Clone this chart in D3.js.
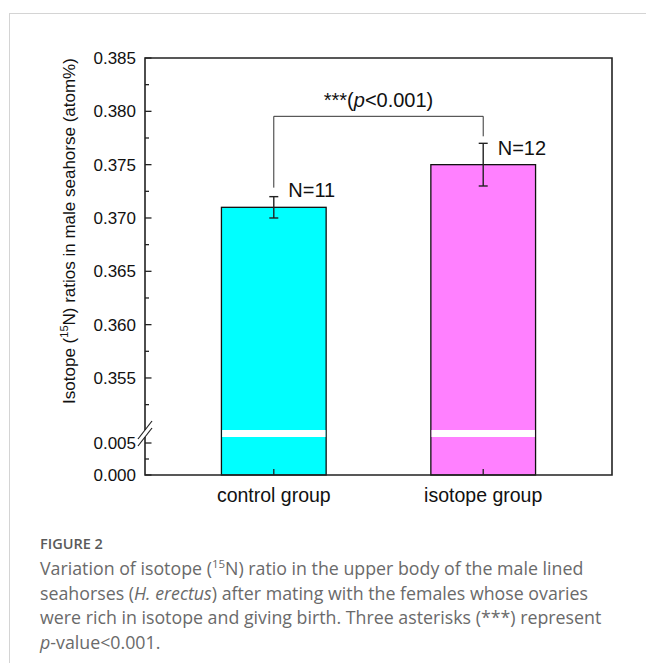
<!DOCTYPE html>
<html>
<head>
<meta charset="utf-8">
<script src="https://cdn.jsdelivr.net/npm/d3@7"></script>
<style>
  html, body { margin: 0; padding: 0; background: #fff; }
  svg { display: block; }
</style>
</head>
<body>
<svg id="fig" width="646" height="663"></svg>
<script>
// ---- data ----
const categories = ["control group", "isotope group"];
const means = [0.371, 0.375];
const errors = [0.001, 0.002];
const sampleSizes = [11, 12];
const barColors = ["#00FFFF", "#FF80FF"];
const upperTicks = [0.355, 0.360, 0.365, 0.370, 0.375, 0.380, 0.385];
const upperMinorTicks = [0.3525, 0.3575, 0.3625, 0.3675, 0.3725, 0.3775, 0.3825];
const lowerTicks = [0.000, 0.005];
const lowerMinorTicks = [0.0025];
const significanceLabel = ["***(", "p", "<0.001)"];

const svg = d3.select("#fig");
const FONT = "Liberation Sans, Arial, Helvetica, sans-serif";
const INK = "#222";

// page frame
svg.append("line").attr("x1", 9).attr("x2", 646).attr("y1", 13.5).attr("y2", 13.5)
  .attr("stroke", "#d4d4d4").attr("stroke-width", 1);
svg.append("line").attr("x1", 9.5).attr("x2", 9.5).attr("y1", 13).attr("y2", 663)
  .attr("stroke", "#d4d4d4").attr("stroke-width", 1);

// plot area
const plot = { left: 145, right: 612, top: 58, bottom: 475 };
const breakTop = 430, breakBottom = 437;

const x = d3.scaleBand().domain(categories)
  .range([plot.left, plot.right]).paddingInner(0.5).paddingOuter(0.365);

// broken y axis: two linear segments
const yUpper = d3.scaleLinear().domain([0.35, 0.385]).range([431.3, plot.top]);
const yLower = d3.scaleLinear().domain([0, 0.005]).range([plot.bottom, 443]);

const g = svg.append("g");

// bars
categories.forEach((c, i) => {
  const x0 = x(c), w = x.bandwidth();
  const yTop = yUpper(means[i]);
  const yBase = yLower(0);
  g.append("rect").attr("x", x0).attr("y", yTop).attr("width", w).attr("height", yBase - yTop)
    .attr("fill", barColors[i]).attr("stroke", "#111").attr("stroke-width", 1.3);
  // axis break gap through the bar
  g.append("rect").attr("x", x0 + 0.7).attr("y", breakTop).attr("width", w - 1.4)
    .attr("height", breakBottom - breakTop).attr("fill", "#fff");
});

// x axis ticks (inward)
categories.forEach(c => {
  const cx = x(c) + x.bandwidth() / 2;
  g.append("line").attr("x1", cx).attr("x2", cx).attr("y1", plot.bottom).attr("y2", plot.bottom - 6)
    .attr("stroke", INK).attr("stroke-width", 1.3);
});

// error bars
categories.forEach((c, i) => {
  const cx = x(c) + x.bandwidth() / 2;
  const yHi = yUpper(means[i] + errors[i]);
  const yLo = yUpper(means[i] - errors[i]);
  const eg = g.append("g").attr("stroke", INK).attr("stroke-width", 1.4);
  eg.append("line").attr("x1", cx).attr("x2", cx).attr("y1", yHi).attr("y2", yLo);
  eg.append("line").attr("x1", cx - 4.5).attr("x2", cx + 4.5).attr("y1", yHi).attr("y2", yHi);
  eg.append("line").attr("x1", cx - 4.5).attr("x2", cx + 4.5).attr("y1", yLo).attr("y2", yLo);
  // sample size label
  g.append("text").attr("x", cx + 14.5).attr("y", yUpper(means[i]) - 10)
    .attr("font-family", FONT).attr("font-size", 20).attr("fill", "#111")
    .text("N=" + sampleSizes[i]);
});

// frame: top, right, bottom, and broken left axis
const frame = g.append("g").attr("stroke", INK).attr("stroke-width", 1.6).attr("fill", "none");
frame.append("path").attr("d",
  `M${plot.left},${breakTop} V${plot.top} H${plot.right} V${plot.bottom} H${plot.left} V${breakBottom}`);

// break marks on the y axis
[breakTop, breakBottom].forEach(yb => {
  frame.append("line").attr("x1", plot.left - 7).attr("y1", yb + 9)
    .attr("x2", plot.left + 7).attr("y2", yb - 9).attr("stroke-width", 1.2);
});

// y ticks (inward) and labels
const tickG = g.append("g").attr("stroke", INK).attr("stroke-width", 1.3);
upperTicks.forEach(v => tickG.append("line").attr("x1", plot.left).attr("x2", plot.left + 6.5)
  .attr("y1", yUpper(v)).attr("y2", yUpper(v)));
upperMinorTicks.forEach(v => tickG.append("line").attr("x1", plot.left).attr("x2", plot.left + 4)
  .attr("y1", yUpper(v)).attr("y2", yUpper(v)));
lowerTicks.forEach(v => tickG.append("line").attr("x1", plot.left).attr("x2", plot.left + 6.5)
  .attr("y1", yLower(v)).attr("y2", yLower(v)));
lowerMinorTicks.forEach(v => tickG.append("line").attr("x1", plot.left).attr("x2", plot.left + 4)
  .attr("y1", yLower(v)).attr("y2", yLower(v)));

const fmt = d3.format(".3f");
const labG = g.append("g").attr("font-family", FONT).attr("font-size", 17).attr("fill", "#111")
  .attr("text-anchor", "end");
upperTicks.forEach(v => labG.append("text").attr("x", plot.left - 9).attr("y", yUpper(v))
  .attr("dy", "0.35em").text(fmt(v)));
lowerTicks.forEach(v => labG.append("text").attr("x", plot.left - 9).attr("y", yLower(v))
  .attr("dy", "0.35em").text(fmt(v)));

// category labels
categories.forEach(c => {
  g.append("text").attr("x", x(c) + x.bandwidth() / 2).attr("y", plot.bottom + 27)
    .attr("text-anchor", "middle").attr("font-family", FONT).attr("font-size", 19.5)
    .attr("fill", "#111").text(c);
});

// y axis title
const yt = g.append("text").attr("transform", `translate(75,231) rotate(-90)`)
  .attr("text-anchor", "middle").attr("font-family", FONT).attr("font-size", 17).attr("fill", "#111");
yt.append("tspan").text("Isotope (");
yt.append("tspan").attr("font-size", 11).attr("dy", -7).text("15");
yt.append("tspan").attr("dy", 7).text("N) ratios in male seahorse (atom%)");

// significance bracket
const cx0 = x(categories[0]) + x.bandwidth() / 2;
const cx1 = x(categories[1]) + x.bandwidth() / 2;
const tops = means.map((m, i) => yUpper(m + errors[i]));
const bracketY = Math.min(...tops) - 27;
g.append("path")
  .attr("d", `M${cx0},${tops[0] - 9} V${bracketY} H${cx1} V${tops[1] - 7}`)
  .attr("fill", "none").attr("stroke", "#333").attr("stroke-width", 1);
const st = g.append("text").attr("x", (cx0 + cx1) / 2).attr("y", bracketY - 9)
  .attr("text-anchor", "middle").attr("font-family", FONT).attr("font-size", 20).attr("fill", "#111");
st.append("tspan").text(significanceLabel[0]);
st.append("tspan").attr("font-style", "italic").text(significanceLabel[1]);
st.append("tspan").text(significanceLabel[2]);

// caption
const CAP = "Open Sans, Lato, sans-serif";
svg.append("text").attr("x", 40).attr("y", 549).attr("font-family", CAP).attr("font-size", 14.5)
  .attr("font-weight", 600).attr("fill", "#5a5a5a").text("FIGURE 2");

const capLines = [
  [["Variation of isotope (", ""], ["15", "sup"], ["N) ratio in the upper body of the male lined", ""]],
  [["seahorses (", ""], ["H. erectus", "it"], [") after mating with the females whose ovaries", ""]],
  [["were rich in isotope and giving birth. Three asterisks (***) represent", ""]],
  [["p", "it"], ["-value<0.001.", ""]]
];
const capBase = [575, 599.5, 624, 648.5];
capLines.forEach((parts, li) => {
  const t = svg.append("text").attr("x", 40).attr("y", capBase[li]).attr("font-family", CAP)
    .attr("font-size", 17.8).attr("fill", "#6a6a6a");
  parts.forEach(([s, kind], k) => {
    const ts = t.append("tspan").text(s);
    if (kind === "it") ts.attr("font-style", "italic");
    if (kind === "sup") ts.attr("font-size", 11.5).attr("dy", -7);
    if (k > 0 && parts[k - 1][1] === "sup") ts.attr("dy", 7);
  });
});
</script>
</body>
</html>
